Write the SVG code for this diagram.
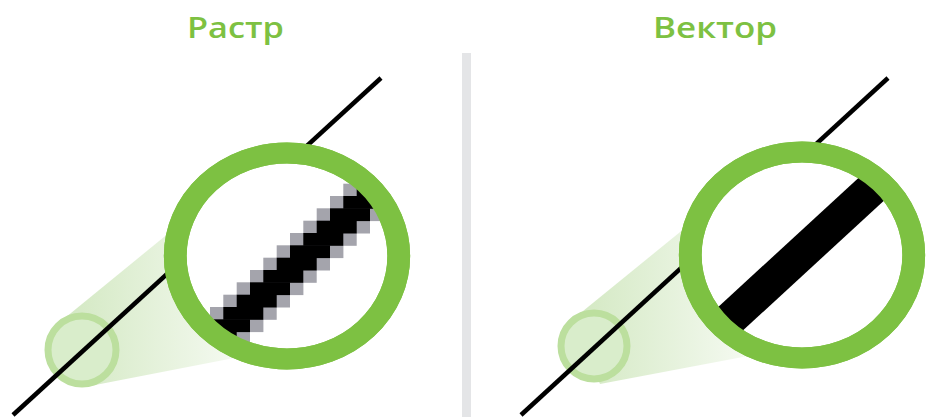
<svg xmlns="http://www.w3.org/2000/svg" width="926" height="417" viewBox="0 0 926 417">
<style>
.title{font-family:"Open Sans","Liberation Sans",sans-serif;font-size:29px;font-weight:600;fill:#7dc142}
.thin{stroke:#000;stroke-width:4.5;fill:none}
.ring{fill:#fff;stroke:#7dc142;stroke-width:21}
.ringtop{fill:none;stroke:#7dc142;stroke-width:21}
.small{fill:#d9edcb;stroke:#bcdf9e;stroke-width:7}
.g{fill:#a4a4ac}
.b{fill:#000}
</style>
<defs>
<linearGradient id="cone" x1="0" y1="0" x2="1" y2="0">
<stop offset="0" stop-color="#d2e8c1"/>
<stop offset="1" stop-color="#ffffff"/>
</linearGradient>
<clipPath id="clipL"><ellipse cx="287" cy="256" rx="111.8" ry="103"/></clipPath>
<clipPath id="clipR"><ellipse cx="802" cy="255" rx="111.8" ry="103"/></clipPath>
</defs>

<rect width="926" height="417" fill="#fff"/>

<g id="title-raster"><text class="title" x="187" y="38" textLength="97" lengthAdjust="spacingAndGlyphs">Растр</text></g>
<g id="title-vector"><text class="title" x="653" y="38" textLength="124" lengthAdjust="spacingAndGlyphs">Вектор</text></g>

<g id="divider"><rect x="462" y="53" width="9" height="364" fill="#e4e5e7"/></g>

<g id="raster">
<polygon points="60,322 175,228 290,250 275,350 90,386" fill="url(#cone)"/>
<circle class="small" cx="82" cy="350" r="34"/>
<line class="thin" x1="381" y1="78" x2="13" y2="415"/>
<g transform="translate(287,256) scale(1.085,1)"><circle class="ring" r="103"/></g>
<g clip-path="url(#clipL)">
<g id="pixels-gray">
<rect class="g" x="383.3" y="146.7" width="66.7" height="12.8"/>
<rect class="g" x="370" y="159" width="66.7" height="12.8"/>
<rect class="g" x="356.7" y="171.3" width="66.7" height="12.8"/>
<rect class="g" x="343.3" y="183.7" width="66.7" height="12.8"/>
<rect class="g" x="330" y="196" width="66.7" height="12.8"/>
<rect class="g" x="316.7" y="208.3" width="66.7" height="12.8"/>
<rect class="g" x="303.3" y="220.7" width="66.7" height="12.8"/>
<rect class="g" x="290" y="233" width="66.7" height="12.8"/>
<rect class="g" x="276.7" y="245.3" width="66.7" height="12.8"/>
<rect class="g" x="263.3" y="257.7" width="66.7" height="12.8"/>
<rect class="g" x="250" y="270" width="66.7" height="12.8"/>
<rect class="g" x="236.7" y="282.3" width="66.7" height="12.8"/>
<rect class="g" x="223.3" y="294.7" width="66.7" height="12.8"/>
<rect class="g" x="210" y="307" width="66.7" height="12.8"/>
<rect class="g" x="196.7" y="319.3" width="66.7" height="12.8"/>
<rect class="g" x="183.3" y="331.7" width="66.7" height="12.8"/>
<rect class="g" x="170" y="344" width="66.7" height="12.8"/>
<rect class="g" x="156.7" y="356.3" width="66.7" height="12.8"/>
</g>
<g id="pixels-black">
<rect class="b" x="396.7" y="146.7" width="40" height="12.8"/>
<rect class="b" x="383.3" y="159" width="40" height="12.8"/>
<rect class="b" x="370" y="171.3" width="40" height="12.8"/>
<rect class="b" x="356.7" y="183.7" width="40" height="12.8"/>
<rect class="b" x="343.3" y="196" width="40" height="12.8"/>
<rect class="b" x="330" y="208.3" width="40" height="12.8"/>
<rect class="b" x="316.7" y="220.7" width="40" height="12.8"/>
<rect class="b" x="303.3" y="233" width="40" height="12.8"/>
<rect class="b" x="290" y="245.3" width="40" height="12.8"/>
<rect class="b" x="276.7" y="257.7" width="40" height="12.8"/>
<rect class="b" x="263.3" y="270" width="40" height="12.8"/>
<rect class="b" x="250" y="282.3" width="40" height="12.8"/>
<rect class="b" x="236.7" y="294.7" width="40" height="12.8"/>
<rect class="b" x="223.3" y="307" width="40" height="12.8"/>
<rect class="b" x="210" y="319.3" width="40" height="12.8"/>
<rect class="b" x="196.7" y="331.7" width="40" height="12.8"/>
<rect class="b" x="183.3" y="344" width="40" height="12.8"/>
<rect class="b" x="170" y="356.3" width="40" height="12.8"/>
</g>
</g>
<g transform="translate(287,256) scale(1.085,1)"><circle class="ringtop" r="103"/></g>
</g>

<g id="vector">
<polygon points="572,320 685,228 800,250 780,350 600,384" fill="url(#cone)"/>
<circle class="small" cx="594" cy="346" r="33"/>
<line class="thin" x1="888" y1="78" x2="521" y2="415"/>
<g transform="translate(802,255) scale(1.085,1)"><circle class="ring" r="103"/></g>
<g clip-path="url(#clipR)">
<line x1="652" y1="391" x2="952" y2="115" stroke="#000" stroke-width="34"/>
</g>
<g transform="translate(802,255) scale(1.085,1)"><circle class="ringtop" r="103"/></g>
</g>
</svg>
